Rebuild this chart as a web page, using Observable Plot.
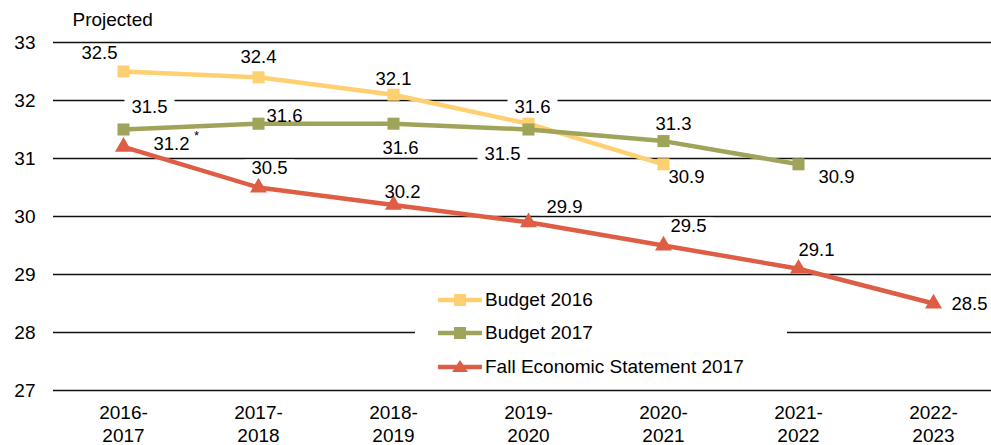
<!DOCTYPE html>
<html><head><meta charset="utf-8">
<script src="https://cdn.jsdelivr.net/npm/d3@7"></script>
<script src="https://cdn.jsdelivr.net/npm/@observablehq/plot@0.6"></script>
<style>
body{margin:0;background:#fff;font-family:"Liberation Sans",Arial,sans-serif;}
#wrap{position:relative;width:991px;height:445px;overflow:hidden}
#legend{position:absolute;left:415px;top:283px;width:372px;height:100px;background:#fff;}
.row{position:absolute;left:23px;height:30px;display:flex;align-items:center;font-size:19px;color:#000;white-space:nowrap}
.row svg{display:block;margin-right:3px}
</style></head><body><div id="wrap"></div>
<script>
// ---- data ----
const periods = ["2016-2017","2017-2018","2018-2019","2019-2020","2020-2021","2021-2022","2022-2023"];
const seriesNames = ["Budget 2016","Budget 2017","Fall Economic Statement 2017"];
const budget2016 = [32.5, 32.4, 32.1, 31.6, 30.9];
const budget2017 = [31.5, 31.6, 31.6, 31.5, 31.3, 30.9];
const fes2017 = [31.2, 30.5, 30.2, 29.9, 29.5, 29.1, 28.5];
const yTicks = [27, 28, 29, 30, 31, 32, 33];
const topNote = "Projected";
const footnoteMark = "*";

// ---- styles / placement ----
const colors = ["#FFD072", "#A0A45A", "#DD5E45"];
const symbols = ["square", "square", "triangle"];
const labelOffsets = [
  [[-24,-18],[0,-20],[0,-16],[4,-17],[23,13]],
  [[26,-22],[26,-8],[7,24],[-26,25],[10,-17],[38,13]],
  [[48,-3],[11,-19],[9,-13],[36,-15],[25,-19],[18,-19],[36,1]]
];
const FONT = '"Liberation Sans", Arial, sans-serif';
// white box behind each data label (labels are all "dd.d")
const labelBox = {draw(ctx) { ctx.rect(-25, -9, 50, 17); ctx.closePath(); }};

const seriesValues = [budget2016, budget2017, fes2017];
const rows = [];
seriesValues.forEach((vals, s) => vals.forEach((v, i) => rows.push({
  series: seriesNames[s], s, i, period: periods[i], value: v, label: v.toFixed(1)
})));

const marks = [];
marks.push(Plot.ruleY(yTicks, {stroke: "#111", strokeWidth: 1.4}));
// label backgrounds (white boxes hiding gridlines)
rows.forEach(r => {
  const [dx, dy] = labelOffsets[r.s][r.i];
  marks.push(Plot.dot([r], {x: "period", y: "value", dx, dy, symbol: labelBox,
    fill: "white", stroke: "none", r: 10}));
});
// lines and markers
seriesNames.forEach((name, s) => {
  const data = rows.filter(r => r.s === s);
  marks.push(Plot.line(data, {x: "period", y: "value", stroke: colors[s], strokeWidth: 4.5}));
  marks.push(Plot.dot(data, {x: "period", y: "value", fill: colors[s], stroke: "none",
    symbol: symbols[s], r: s === 2 ? 6.3 : 6.8}));
});
// labels
rows.forEach(r => {
  const [dx, dy] = labelOffsets[r.s][r.i];
  marks.push(Plot.text([r], {x: "period", y: "value", text: "label", dx, dy,
    fill: "#000", fontSize: 18.5}));
});
// footnote mark on the first FES label
marks.push(Plot.text([rows.find(r => r.s === 2 && r.i === 0)], {x: "period", y: "value",
  text: () => footnoteMark, dx: 73, dy: -11, fontSize: 13, fill: "#000"}));
// top note
marks.push(Plot.text([topNote], {frameAnchor: "top-left", text: d => d, dx: 19, dy: -23,
  textAnchor: "start", lineAnchor: "middle", fontSize: 19, fill: "#000"}));
marks.push(Plot.axisY({ticks: yTicks, tickSize: 0, tickPadding: 18, fontSize: 19, tickFormat: d => d}));
marks.push(Plot.axisX({tickSize: 0, tickPadding: 12, fontSize: 19, lineHeight: 1.21,
  tickFormat: d => d.replace("-", "-\n")}));

const chart = Plot.plot({
  width: 991, height: 445,
  marginLeft: 53, marginRight: 0, marginTop: 42, marginBottom: 55,
  style: {fontFamily: FONT, color: "#000", background: "#fff", overflow: "visible"},
  x: {type: "point", domain: periods, range: [122, 934], padding: 0, label: null},
  y: {domain: [27, 33], label: null},
  marks
});
const wrap = document.getElementById("wrap");
wrap.appendChild(chart);

// legend (inside the plot area, white box)
const legend = document.createElement("div");
legend.id = "legend";
const rowCenters = [17, 50, 84];
seriesNames.forEach((name, s) => {
  const row = document.createElement("div");
  row.className = "row";
  row.style.top = (rowCenters[s] - 15) + "px";
  const sym = s === 2
    ? `<path d="M22,3 L30,15 L14,15 Z" fill="${colors[s]}"/>`
    : `<rect x="16" y="4" width="12" height="12" fill="${colors[s]}"/>`;
  row.innerHTML = `<svg width="44" height="20"><line x1="1" x2="43" y1="10" y2="10" stroke="${colors[s]}" stroke-width="4.5" stroke-linecap="round"/>${sym}</svg><span>${name}</span>`;
  legend.appendChild(row);
});
wrap.appendChild(legend);
</script></body></html>
